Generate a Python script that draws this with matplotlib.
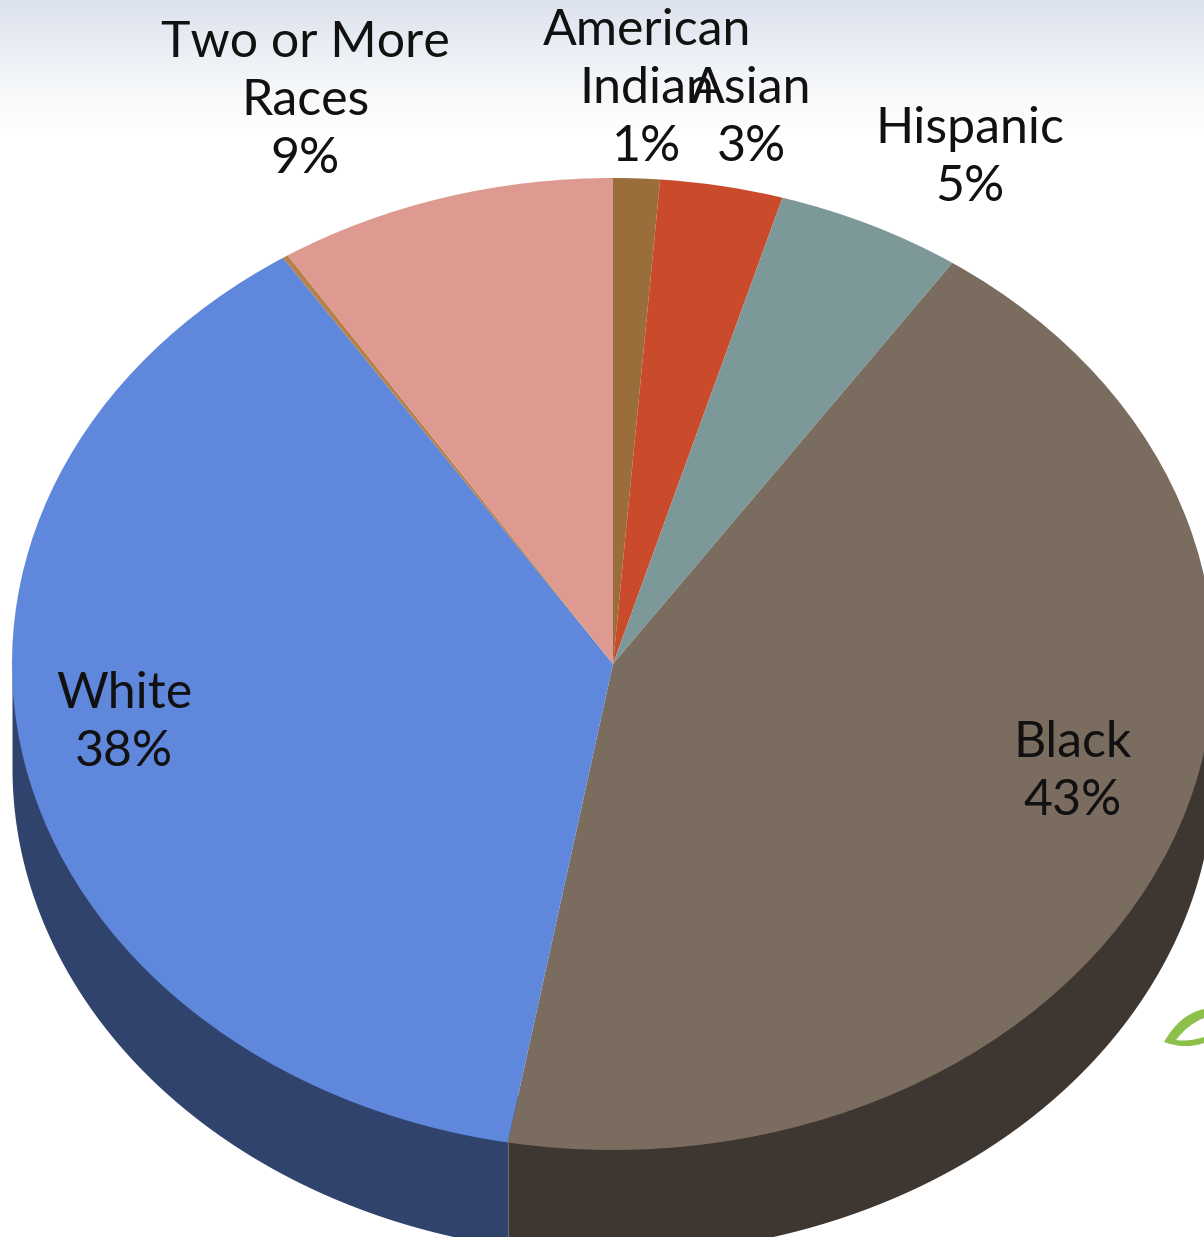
"""Race/ethnicity breakdown drawn as a tilted 3D-looking pie chart."""

import numpy as np
import matplotlib.pyplot as plt
from matplotlib.colors import LinearSegmentedColormap
from matplotlib.patches import PathPatch
from matplotlib.path import Path
from matplotlib.transforms import Affine2D

WIDTH, HEIGHT = 1204, 1237

# clockwise from 12 o'clock, as read from the slice boundaries
groups = ["American Indian", "Asian", "Hispanic", "Black", "White", "Pacific Islander", "Two or More Races"]
shares = [1.25, 3.3, 5.0, 43.25, 37.95, 0.15, 9.1]
top_colors = ["#9A6E3A", "#C94B2C", "#7C9899", "#7B6C60", "#5F87DB", "#B9814A", "#DE9A91"]
side_white = "#30436C"
side_black = "#3E3631"

label_texts = ["Two or More\nRaces\n9%", "American\nIndian\n1%", "Asian\n3%", "Hispanic\n5%", "Black\n43%", "White\n38%"]
label_x = [305, 647, 751, 970, 1073, 124]
label_y = [101, 89, 118, 158, 772, 723]

# pie geometry in pixels
CX, CY = 613, 664
RX, RY = 601, 486
DEPTH = 104
WASH_HEIGHT = 135

plt.rcParams["font.family"] = ["Lato", "DejaVu Sans"]

fig = plt.figure(figsize=(WIDTH / 100, HEIGHT / 100), dpi=100, facecolor="white")

# pale header wash behind the labels, only across the top of the picture
bg = fig.add_axes([0, 1 - WASH_HEIGHT / HEIGHT, 1, WASH_HEIGHT / HEIGHT])
wash = LinearSegmentedColormap.from_list("wash", ["#DCE2ED", "#E9EDF4", "#F6F8FA", "#FFFFFF"])
bg.imshow(np.linspace(0, 1, 256).reshape(-1, 1), cmap=wash, aspect="auto")
bg.axis("off")

ax = fig.add_axes([0, 0, 1, 1])
ax.patch.set_alpha(0)
ax.pie(shares, colors=top_colors, startangle=90, counterclock=False,
       wedgeprops={"linewidth": 0, "antialiased": True})
ax.set_aspect("auto")
ax.set_xlim(-CX / RX, (WIDTH - CX) / RX)
ax.set_ylim(-(HEIGHT - CY) / RY, CY / RY)

# side wall: white wall runs from 9 o'clock to the seam, black wall from seam to 3 o'clock
# walls reach up under the top face so no pale fringe shows along the rim
black_end = 90 - 360 * sum(shares[:4]) / 100
seam = np.radians(black_end)
depth = DEPTH / RY
t_white = np.linspace(-np.pi, seam, 200)
t_black = np.linspace(seam, 0, 200)
ax.fill_between(np.cos(t_white), np.sin(t_white) - depth, np.sin(t_white) * 0.9, color=side_white, lw=0, zorder=0.5)
ax.fill_between(np.cos(t_black), np.sin(t_black) - depth, np.sin(t_black) * 0.9, color=side_black, lw=0, zorder=0.5)
ax.plot([np.cos(seam)] * 2, [np.sin(seam), np.sin(seam) - depth], color="#6E6C70", lw=0.8, zorder=0.6)

# pixel coordinates for the labels and the leaf scrap at the right edge
px = Affine2D().scale(1 / WIDTH, -1 / HEIGHT).translate(0, 1) + fig.transFigure

for text, x, y in zip(label_texts, label_x, label_y):
    fig.text(x, y, text, transform=px, ha="center", va="center", fontsize=36,
             color="#111111", linespacing=1.33)

leaf = Path([(1204, 1009), (1180, 1014), (1164, 1042), (1185, 1050), (1204, 1043),
             (1204, 1037), (1188, 1042), (1176, 1040), (1188, 1024), (1204, 1018), (1204, 1009)],
            [Path.MOVETO, Path.CURVE3, Path.CURVE3, Path.CURVE3, Path.CURVE3,
             Path.LINETO, Path.CURVE3, Path.CURVE3, Path.CURVE3, Path.CURVE3, Path.LINETO])
fig.add_artist(PathPatch(leaf, transform=px, facecolor="#8CC04B", edgecolor="none"))

fig.savefig("out.png", dpi=100)
plt.close(fig)
